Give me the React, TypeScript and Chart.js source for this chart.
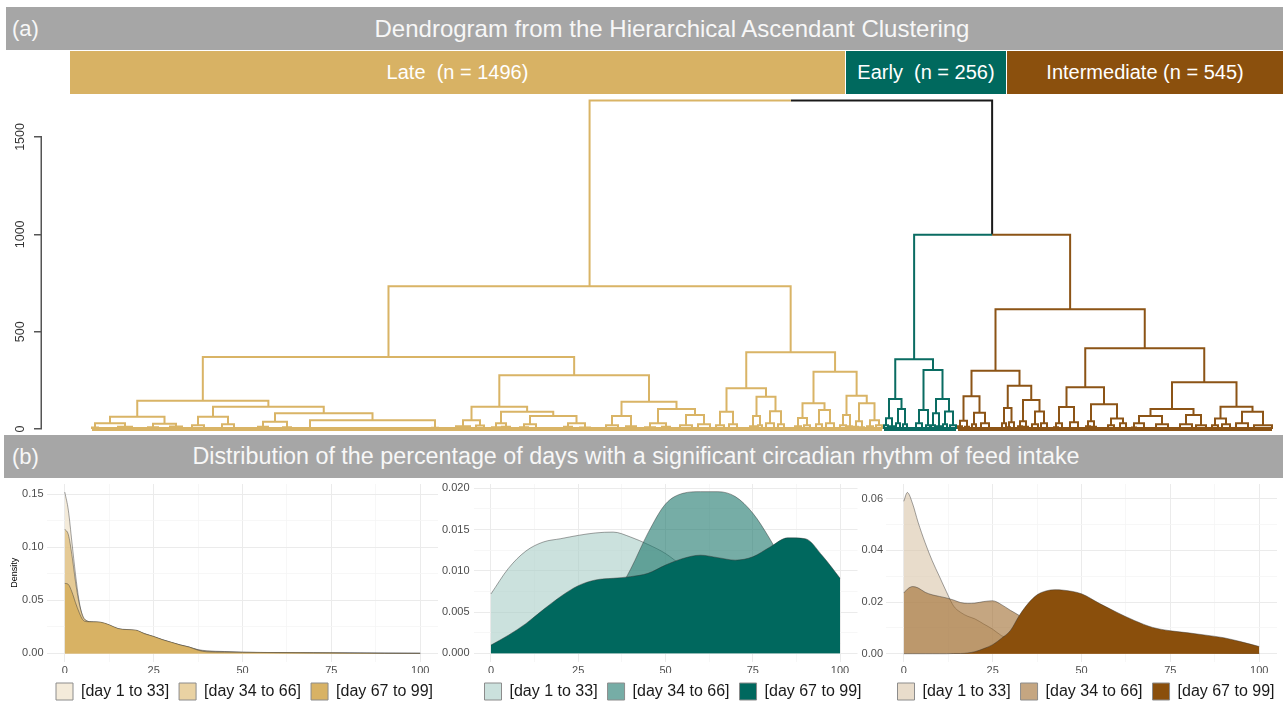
import React, { useEffect, useRef } from 'react';
import { Chart, registerables } from 'chart.js';

Chart.register(...registerables);

const FONT = '"Liberation Sans", Arial, Helvetica, sans-serif';

// ---------------- (a) Dendrogram data ----------------
// A node is either a leaf (its position in the leaf order) or [merge height, left, right]
type TreeNode = number | [number, TreeNode, TreeNode];

const clusterLabels = ['Late  (n = 1496)', 'Early  (n = 256)', 'Intermediate (n = 545)'];
const clusterColors = ['#d8b264', '#00695e', '#8b500d'];
const branchColors = ['#d9b466', '#0a6c62', '#8c5416', '#1a1a1a'];

const lateTree: TreeNode = [733,
  [370,
    [145,
      [63,
        [30, [8, 2, 8], [12, 28, 42]],
        [28, [10, 58, 68], [14, 80, 92]]],
      [115,
        [63, [20, 102, 114], [25, 132, 144]],
        [82,
          [38, [12, 168, 178], [10, 193, 201]],
          [46, [6, 205, 235], [7, 342, 348]]]]],
    [277,
      [115,
        [46, [15, 366, 380], [18, 386, 394]],
        [89,
          [30, [10, 402, 410], [12, 412, 420]],
          [67, [25, [10, 430, 438], 446], [30, [12, 474, 482], [8, 490, 500]]]]],
      [140,
        [67, [20, 516, 528], [15, 536, 546]],
        [103,
          [30, [10, 555, 565], [12, 572, 580]],
          [72, [20, 590, 602], [25, 608, 620]]]]]],
  [394,
    [210,
      [89, [20, 626, 634], [25, 639, 647]],
      [166,
        [67, [15, 660, 666], [20, 668, 672]],
        [92, [30, 676, 684], [25, 688, 694]]]],
    [294,
      [133,
        [57, [15, 705, 711], [20, 714, 720]],
        [98, [25, 726, 732], [30, 736, 744]]],
      [171,
        [72, [20, 750, 756], [15, 758, 762]],
        [133,
          [40, [12, 764, 768], [10, 770, 774]],
          [45, [15, 777, 783], [20, 786, 792]]]]]]];

const earlyTree: TreeNode = [359,
  [154,
    [56, [20, 794, 798], [15, 800, 804]],
    [103, [30, 806, 810], [25, 813, 817]]],
  [303,
    [98, [30, 826, 832], [20, 836, 840]],
    [154,
      [82, [20, 841, 845], [15, 847, 851]],
      [90, [25, 853, 857], [20, 860, 866]]]]];

const intermediateTree: TreeNode = [616,
  [300,
    [169,
      [43, [15, 868, 872], [12, 875, 879]],
      [84, [25, 882, 886], [30, 891, 899]]],
    [222,
      [108, [30, 912, 916], [35, [10, 918, 920], 924]],
      [149,
        [40, [15, 928, 932], [12, 934, 938]],
        [90, [25, 942, 948], [30, 951, 957]]]]],
  [415,
    [215,
      [113, [30, [10, 964, 968], 972], [35, 980, 988]],
      [128,
        [40, [15, 996, 1000], [12, 1002, 1006]],
        [55, [20, 1018, 1024], [30, 1030, 1036]]]],
    [241,
      [103,
        [67, [30, [8, 1042, 1046], 1054], [25, 1066, 1078]],
        [72, [25, 1090, 1102], [20, 1106, 1116]]],
      [115,
        [55, [20, 1122, 1128], [25, 1132, 1140]],
        [89, [30, 1146, 1158], [20, 1164, 1182]]]]]];

// heights of the last two merges: Early + Intermediate, then with Late
const mergeHeights = [998, 1687];
const dendroTicks = [0, 500, 1000, 1500];

// ---------------- (b) Density data ----------------
const periodLabels = ['[day 1 to 33]', '[day 34 to 66]', '[day 67 to 99]'];

const lateX = [0, 1, 2, 3, 4, 5, 6, 8, 10, 12.5, 15, 17.5, 20, 22.5, 25, 27.5, 30, 32.5, 35, 37.5, 40, 45, 50, 60, 70, 80, 90, 100];
const lateP1 = [0.152, 0.135, 0.105, 0.075, 0.05, 0.035, 0.031, 0.0296, 0.0292, 0.0266, 0.0232, 0.0222, 0.0215, 0.0184, 0.0157, 0.0128, 0.0103, 0.008, 0.006, 0.0036, 0.0025, 0.0018, 0.0012, 0.0008, 0.0006, 0.0005, 0.0003, 0.0002];
const lateP2 = [0.117, 0.112, 0.093, 0.068, 0.048, 0.036, 0.031, 0.0295, 0.029, 0.0265, 0.023, 0.022, 0.0215, 0.0185, 0.0158, 0.0128, 0.0102, 0.0078, 0.0058, 0.0032, 0.002, 0.0015, 0.001, 0.0008, 0.0006, 0.0004, 0.0002, 0.0001];
const lateP3 = [0.066, 0.065, 0.058, 0.048, 0.039, 0.032, 0.030, 0.0298, 0.0295, 0.027, 0.0235, 0.0225, 0.022, 0.0185, 0.016, 0.013, 0.0105, 0.008, 0.006, 0.003, 0.0015, 0.0012, 0.001, 0.0008, 0.0006, 0.0004, 0.0002, 0.0001];

const earlyX = [0, 5, 10, 15, 20, 25, 30, 35, 40, 45, 50, 55, 60, 65, 70, 75, 80, 85, 90, 95, 100];
const earlyP1 = [0.0072, 0.0103, 0.0124, 0.0135, 0.0139, 0.0143, 0.0146, 0.0147, 0.0141, 0.0132, 0.0121, 0.0105, 0.0088, 0.0071, 0.0056, 0.0043, 0.0033, 0.0025, 0.0019, 0.0015, 0.0012];
const earlyP2 = [0.0002, 0.0003, 0.0005, 0.0009, 0.0015, 0.0025, 0.004, 0.0065, 0.0102, 0.0146, 0.0181, 0.0194, 0.0196, 0.0196, 0.019, 0.017, 0.0138, 0.01, 0.0074, 0.0056, 0.0045];
const earlyP3 = [0.001, 0.0022, 0.0036, 0.0053, 0.0069, 0.0082, 0.0089, 0.0091, 0.0093, 0.0097, 0.0107, 0.0115, 0.0119, 0.0116, 0.0113, 0.0117, 0.0129, 0.014, 0.0139, 0.0118, 0.0091];

const intermediateX = [0, 1, 2.5, 4, 6, 8, 10, 12, 14, 16, 18, 20, 22.5, 25, 27.5, 30, 32.5, 35, 37.5, 40, 42.5, 45, 50, 55, 60, 65, 70, 75, 80, 85, 90, 95, 100];
const intermediateP1 = [0.059, 0.0624, 0.058, 0.051, 0.043, 0.036, 0.030, 0.024, 0.0185, 0.016, 0.0145, 0.0135, 0.0115, 0.0095, 0.007, 0.0055, 0.0045, 0.0038, 0.003, 0.0025, 0.0021, 0.0018, 0.0014, 0.0011, 0.0009, 0.0007, 0.0006, 0.0005, 0.0004, 0.0003, 0.0002, 0.0001, 0.0001];
const intermediateP2 = [0.0235, 0.025, 0.026, 0.0255, 0.0238, 0.0228, 0.0222, 0.0216, 0.0208, 0.0198, 0.0195, 0.0196, 0.0202, 0.0205, 0.019, 0.0168, 0.0148, 0.0122, 0.0095, 0.0072, 0.0055, 0.0042, 0.0028, 0.002, 0.0015, 0.0012, 0.001, 0.0008, 0.0006, 0.0005, 0.0004, 0.0003, 0.0002];
const intermediateP3 = [0, 0, 0, 0, 0, 0, 0, 0, 0.0001, 0.0001, 0.0003, 0.0008, 0.002, 0.0035, 0.006, 0.009, 0.0148, 0.0195, 0.0228, 0.0243, 0.0248, 0.0246, 0.0232, 0.0195, 0.016, 0.0128, 0.0102, 0.0089, 0.0081, 0.0072, 0.0062, 0.0046, 0.0028];

const lateFills = ['rgba(236,222,193,0.6)', 'rgba(219,183,107,0.62)', '#d8b264'];
const earlyFills = ['rgba(168,205,199,0.6)', 'rgba(27,118,107,0.6)', '#00685e'];
const intermediateFills = ['rgba(217,197,168,0.6)', 'rgba(159,107,45,0.6)', '#8a4f0c'];

// ---------------- helpers ----------------
type Pt = { x: number; y: number | null };
type Placed = { x: number; h: number; lo: number; hi: number };

function place(node: TreeNode, segs: Pt[]): Placed {
  if (typeof node === 'number') return { x: node, h: 0, lo: node, hi: node };
  const [h, l, r] = node;
  const a = place(l, segs);
  const b = place(r, segs);
  segs.push({ x: a.x, y: a.h }, { x: a.x, y: h }, { x: b.x, y: h }, { x: b.x, y: b.h }, { x: b.x, y: null });
  return { x: (a.x + b.x) / 2, h, lo: a.lo, hi: b.hi };
}

function buildDendrogram() {
  const late: Pt[] = [];
  const early: Pt[] = [];
  const inter: Pt[] = [];
  const top: Pt[] = [];
  const L = place(lateTree, late);
  const E = place(earlyTree, early);
  const I = place(intermediateTree, inter);
  const [hEI, hRoot] = mergeHeights;
  const xEI = (E.x + I.x) / 2;
  early.push({ x: E.x, y: E.h }, { x: E.x, y: hEI }, { x: xEI, y: hEI }, { x: xEI, y: null });
  inter.push({ x: xEI, y: hEI }, { x: I.x, y: hEI }, { x: I.x, y: I.h }, { x: I.x, y: null });
  const xRoot = (L.x + xEI) / 2;
  late.push({ x: L.x, y: L.h }, { x: L.x, y: hRoot }, { x: xRoot, y: hRoot }, { x: xRoot, y: null });
  top.push({ x: xRoot, y: hRoot }, { x: xEI, y: hRoot }, { x: xEI, y: hEI });
  const base = [L, E, I].map((n) => [{ x: n.lo, y: 0 }, { x: n.hi, y: 0 }]);
  return { groups: [late, early, inter, top], base };
}

const noPad = (s: any) => {
  s.paddingTop = 0;
  s.paddingBottom = 0;
  s.paddingLeft = 0;
  s.paddingRight = 0;
};

const axisLinePlugin = {
  id: 'axisLine',
  afterDraw(chart: any) {
    const y = chart.scales.y;
    const ctx = chart.ctx;
    ctx.save();
    ctx.strokeStyle = '#555555';
    ctx.lineWidth = 1.5;
    ctx.beginPath();
    const x = y.right - 0.75;
    ctx.moveTo(x, y.getPixelForValue(dendroTicks[0]));
    ctx.lineTo(x, y.getPixelForValue(dendroTicks[dendroTicks.length - 1]));
    ctx.stroke();
    ctx.restore();
  },
};

function Dendrogram() {
  const ref = useRef<HTMLCanvasElement>(null);
  useEffect(() => {
    const { groups, base } = buildDendrogram();
    const datasets: any[] = groups.map((g, i) => ({
      data: g,
      borderColor: branchColors[i],
      borderWidth: 2,
      pointRadius: 0,
      fill: false,
      tension: 0,
      spanGaps: false,
      clip: 6,
      borderJoinStyle: 'miter',
    }));
    base.forEach((b, i) => {
      datasets.push({
        data: b,
        borderColor: branchColors[i],
        borderWidth: 4,
        pointRadius: 0,
        fill: false,
        clip: 6,
      });
    });
    const chart = new Chart(ref.current!, {
      type: 'line',
      data: { datasets },
      plugins: [axisLinePlugin],
      options: {
        animation: false,
        responsive: false,
        events: [],
        layout: { padding: { top: 8, bottom: 3, left: 0, right: 0 } },
        plugins: { legend: { display: false }, tooltip: { enabled: false } },
        scales: {
          x: { type: 'linear', display: false, min: -48, max: 1193 },
          y: {
            type: 'linear',
            min: -20,
            max: 1700,
            afterFit: (s: any) => { s.width = 42; noPad(s); },
            afterBuildTicks: (s: any) => { s.ticks = dendroTicks.map((v) => ({ value: v })); },
            border: { display: false },
            grid: { display: true, drawOnChartArea: false, drawTicks: true, tickLength: 8, color: '#555555', lineWidth: 1.5 },
            ticks: {
              minRotation: 90,
              maxRotation: 90,
              crossAlign: 'center',
              padding: 0,
              autoSkip: false,
              color: '#333333',
              font: { size: 12.5, family: FONT },
              callback: (v: any) => String(v),
            },
          },
        },
      } as any,
    });
    return () => chart.destroy();
  }, []);
  return (
    <canvas
      ref={ref}
      width={1283}
      height={346}
      style={{ position: 'absolute', left: 0, top: 90, width: 1283, height: 346 }}
    />
  );
}

type Panel = {
  xs: number[];
  ys: number[][];
  fills: string[];
  yMin: number;
  yMax: number;
  yStep: number;
  decimals: number;
  left: number;
  width: number;
  yWidth: number;
  y2Width: number;
  yPad: number;
  title?: string;
};

const panels: Panel[] = [
  { xs: lateX, ys: [lateP1, lateP2, lateP3], fills: lateFills, yMin: -0.0076, yMax: 0.1596, yStep: 0.025, decimals: 2, left: 0, width: 489, yWidth: 47, y2Width: 51, yPad: 3.5, title: 'Density' },
  { xs: earlyX, ys: [earlyP1, earlyP2, earlyP3], fills: earlyFills, yMin: -0.00099, yMax: 0.02053, yStep: 0.0025, decimals: 3, left: 440, width: 466, yWidth: 33.5, y2Width: 48.5, yPad: 4 },
  { xs: intermediateX, ys: [intermediateP1, intermediateP2, intermediateP3], fills: intermediateFills, yMin: -0.003, yMax: 0.0657, yStep: 0.01, decimals: 2, left: 850, width: 472, yWidth: 36, y2Width: 45, yPad: 3 },
];

function DensityPanel({ p }: { p: Panel }) {
  const ref = useRef<HTMLCanvasElement>(null);
  useEffect(() => {
    const isMajorY = (v: number) => Math.round(v / p.yStep) % 2 === 0;
    const isMajorX = (v: number) => Math.round(v / 12.5) % 2 === 0;
    const datasets = p.ys.map((ys, i) => ({
      label: periodLabels[i],
      data: p.xs.map((x, j) => ({ x, y: ys[j] })),
      backgroundColor: p.fills[i],
      borderColor: 'rgba(50,50,50,0.75)',
      borderWidth: 0.6,
      pointRadius: 0,
      fill: 'origin',
      tension: 0.4,
      cubicInterpolationMode: 'monotone',
      order: 3 - i,
    }));
    const chart = new Chart(ref.current!, {
      type: 'line',
      data: { datasets },
      options: {
        animation: false,
        responsive: false,
        events: [],
        layout: { padding: { top: 4, left: 0, right: 0, bottom: 0 } },
        plugins: {
          tooltip: { enabled: false },
          legend: {
            position: 'bottom',
            labels: {
              boxWidth: 17,
              boxHeight: 17,
              padding: 10,
              color: '#1a1a1a',
              font: { size: 16, family: FONT },
              sort: (a: any, b: any) => a.datasetIndex - b.datasetIndex,
              generateLabels: (c: any) =>
                (Chart.defaults.plugins.legend.labels as any).generateLabels(c).map((l: any) => ({
                  ...l,
                  strokeStyle: '#8c8c8c',
                  lineWidth: 1,
                })),
            },
          },
        },
        scales: {
          x: {
            type: 'linear',
            min: -5,
            max: 105,
            afterFit: (s: any) => { s.height = 11.5; noPad(s); },
            border: { display: false },
            grid: {
              drawTicks: false,
              color: (c: any) => (isMajorX(c.tick.value) ? '#ebebeb' : '#f5f5f5'),
              lineWidth: (c: any) => (isMajorX(c.tick.value) ? 1 : 0.8),
            },
            ticks: {
              stepSize: 12.5,
              includeBounds: false,
              autoSkip: false,
              maxRotation: 0,
              padding: 3,
              color: '#4d4d4d',
              font: { size: 11, family: FONT },
              callback: (v: any) => (isMajorX(v) ? String(v) : ''),
            },
          },
          y: {
            type: 'linear',
            min: p.yMin,
            max: p.yMax,
            afterFit: (s: any) => { s.width = p.yWidth; noPad(s); },
            border: { display: false },
            grid: {
              drawTicks: false,
              color: (c: any) => (isMajorY(c.tick.value) ? '#ebebeb' : '#f5f5f5'),
              lineWidth: (c: any) => (isMajorY(c.tick.value) ? 1 : 0.8),
            },
            ticks: {
              stepSize: p.yStep,
              includeBounds: false,
              autoSkip: false,
              padding: p.yPad,
              color: '#4d4d4d',
              font: { size: 11, family: FONT },
              callback: (v: any) => (isMajorY(v) ? Number(v).toFixed(p.decimals) : ''),
            },
            title: {
              display: !!p.title,
              text: p.title || '',
              color: '#000000',
              font: { size: 9, family: FONT },
              padding: { top: 9.6, bottom: 0 },
            },
          },
          y2: {
            type: 'linear',
            position: 'right',
            afterFit: (s: any) => { s.width = p.y2Width; noPad(s); },
            border: { display: false },
            grid: { display: false },
            ticks: { display: false },
          },
        },
      } as any,
    });
    return () => chart.destroy();
  }, []);
  return (
    <canvas
      ref={ref}
      width={p.width}
      height={230}
      style={{ position: 'absolute', left: p.left, top: 480, width: p.width, height: 230 }}
    />
  );
}

const bannerStyle: React.CSSProperties = {
  position: 'absolute',
  background: '#a6a6a6',
  color: '#f7f7f7',
  fontSize: 22,
  height: 43,
  lineHeight: '43px',
  whiteSpace: 'nowrap',
};

const clusterBars = [
  { left: 70, width: 776 },
  { left: 846, width: 161 },
  { left: 1007, width: 276 },
];

export default function App() {
  return (
    <div
      style={{
        position: 'absolute',
        left: 0,
        top: 0,
        width: 1283,
        height: 704,
        overflow: 'hidden',
        background: '#ffffff',
        fontFamily: FONT,
      }}
    >
      <div style={{ ...bannerStyle, left: 6, top: 7, width: 1277 }}>
        <span style={{ position: 'absolute', left: 6 }}>(a)</span>
        <span style={{ position: 'absolute', left: 666, fontSize: 24, transform: 'translateX(-50%)' }}>
          Dendrogram from the Hierarchical Ascendant Clustering
        </span>
      </div>
      {clusterBars.map((b, i) => (
        <div
          key={i}
          style={{
            position: 'absolute',
            left: b.left,
            top: 51,
            width: b.width - (i < 2 ? 1 : 0),
            height: 43,
            background: clusterColors[i],
            color: '#ffffff',
            fontSize: 20,
            lineHeight: '43px',
            textAlign: 'center',
            whiteSpace: 'pre',
          }}
        >
          {clusterLabels[i]}
        </div>
      ))}
      <Dendrogram />
      <div style={{ ...bannerStyle, left: 4, top: 435, width: 1279 }}>
        <span style={{ position: 'absolute', left: 8 }}>(b)</span>
        <span style={{ position: 'absolute', left: 632, fontSize: 23.3, transform: 'translateX(-50%)' }}>
          Distribution of the percentage of days with a significant circadian rhythm of feed intake
        </span>
      </div>
      {panels.map((p, i) => (
        <DensityPanel key={i} p={p} />
      ))}
    </div>
  );
}
